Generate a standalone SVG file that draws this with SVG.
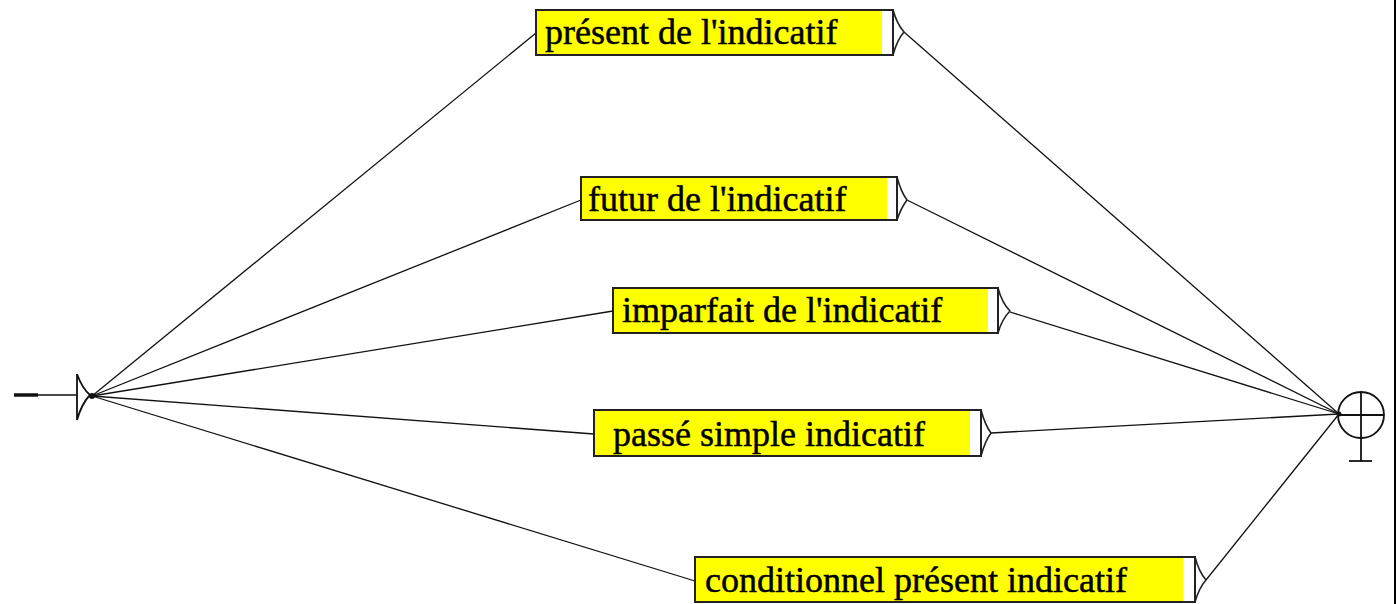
<svg xmlns="http://www.w3.org/2000/svg" width="1396" height="604" viewBox="0 0 1396 604" font-family="Liberation Serif, Times New Roman, serif">
  <style>
    .edge { fill: none; stroke: #111; stroke-width: 1.3; }
    .box { fill: #ffffff; stroke: #222; stroke-width: 2; }
    .fill { fill: #ffff00; stroke: none; }
    .tip { fill: none; stroke: #222; stroke-width: 1.6; stroke-linejoin: round; }
    .label { font-size: 36px; fill: #000; stroke: #000; stroke-width: 0.45; }
    .mark { fill: none; stroke: #111; stroke-width: 1.8; }
  </style>
  <rect x="0" y="0" width="1396" height="604" fill="#ffffff"/>
  <rect x="1394" y="0" width="2" height="604" fill="#000"/>

  <!-- connectors -->
  <g id="connectors">
    <line class="edge" x1="92" y1="396" x2="536" y2="33"/>
    <line class="edge" x1="92" y1="396" x2="581" y2="200"/>
    <line class="edge" x1="92" y1="396" x2="613" y2="311"/>
    <line class="edge" x1="92" y1="396" x2="594" y2="434"/>
    <line class="edge" x1="92" y1="396" x2="695" y2="581"/>
    <line class="edge" x1="904" y1="32" x2="1339" y2="414"/>
    <line class="edge" x1="907" y1="200" x2="1339" y2="414"/>
    <line class="edge" x1="1010" y1="312" x2="1339" y2="414"/>
    <line class="edge" x1="991" y1="433" x2="1339" y2="414"/>
    <line class="edge" x1="1206" y1="580" x2="1339" y2="414"/>
  </g>

  <!-- initial state -->
  <g id="start">
    <line x1="14" y1="395" x2="38" y2="395" stroke="#111" stroke-width="3.5"/>
    <line x1="38" y1="395" x2="77" y2="395" stroke="#111" stroke-width="1.5"/>
    <path class="mark" d="M77,374 L77,420 M77,374 Q82,388 90,395 M77,420 Q82,403 90,395"/>
    <circle cx="92" cy="396" r="3" fill="#111"/>
  </g>

  <!-- final state -->
  <g id="end">
    <circle class="mark" cx="1361" cy="415" r="23"/>
    <line class="mark" x1="1338" y1="415" x2="1384" y2="415"/>
    <line class="mark" x1="1361" y1="392" x2="1361" y2="461"/>
    <line class="mark" x1="1349" y1="461" x2="1372" y2="461"/>
    <circle cx="1339" cy="414" r="2.5" fill="#111"/>
  </g>

  <g id="n1">
    <rect class="box" x="536" y="10" width="357" height="45"/>
    <rect class="fill" x="537" y="11" width="345" height="43"/>
    <path class="tip" d="M893,10 Q897,24 904,32 Q897,40 893,55"/>
    <text class="label" font-family="Liberation Serif" x="545" y="44">présent de l'indicatif</text>
  </g>

  <g id="n2">
    <rect class="box" x="581" y="177" width="316" height="43"/>
    <rect class="fill" x="582" y="178" width="305" height="41"/>
    <path class="tip" d="M897,177 Q901,192 907,200 Q901,208 897,220"/>
    <text class="label" font-family="Liberation Serif" x="588" y="211">futur de l'indicatif</text>
  </g>

  <g id="n3">
    <rect class="box" x="613" y="288" width="385" height="45"/>
    <rect class="fill" x="614" y="289" width="374" height="43"/>
    <path class="tip" d="M998,288 Q1002,303 1010,311 Q1002,319 998,333"/>
    <text class="label" font-family="Liberation Serif" x="622" y="322">imparfait de l'indicatif</text>
  </g>

  <g id="n4">
    <rect class="box" x="594" y="410" width="387" height="46"/>
    <rect class="fill" x="595" y="411" width="375" height="44"/>
    <path class="tip" d="M981,410 Q985,425 991,433 Q985,441 981,456"/>
    <text class="label" font-family="Liberation Serif" x="613" y="446">passé simple indicatif</text>
  </g>

  <g id="n5">
    <rect class="box" x="695" y="557" width="500" height="45"/>
    <rect class="fill" x="696" y="558" width="487" height="43"/>
    <path class="tip" d="M1195,557 Q1199,572 1206,580 Q1199,588 1195,602"/>
    <text class="label" font-family="Liberation Serif" x="705" y="592">conditionnel présent indicatif</text>
  </g>
</svg>
